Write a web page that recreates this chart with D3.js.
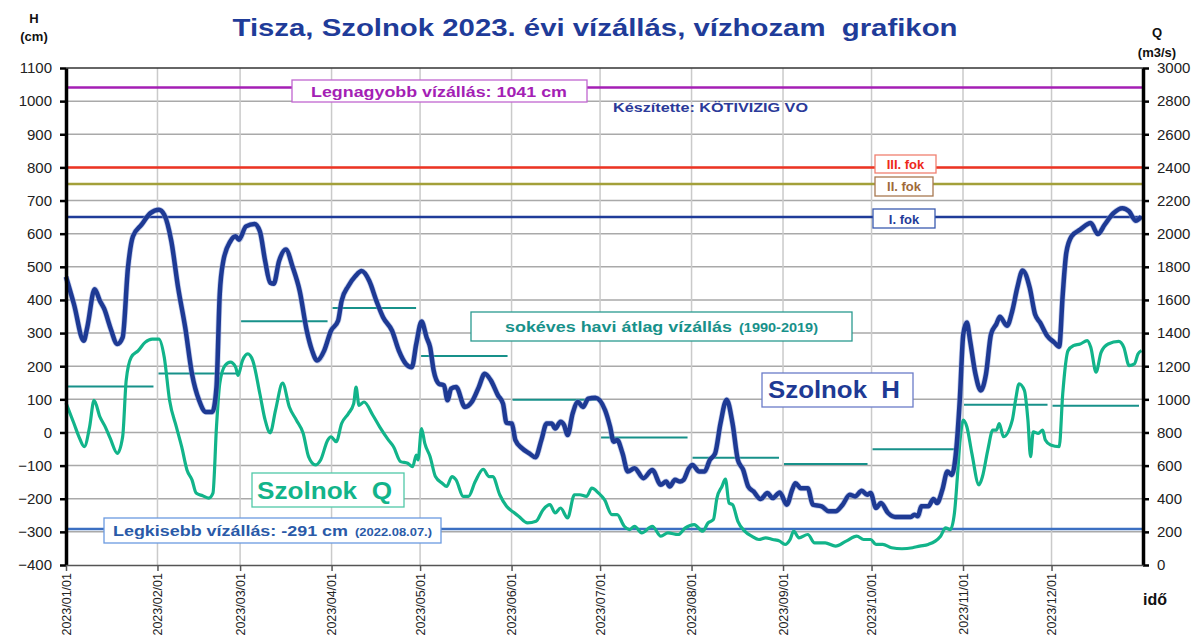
<!DOCTYPE html>
<html lang="hu">
<head>
<meta charset="UTF-8">
<title>Tisza, Szolnok 2023</title>
<script src="https://cdn.jsdelivr.net/npm/d3@7"></script>
<style>
  body { margin: 0; background: #fff; }
  svg { display: block; font-family: "Liberation Sans", Arial, sans-serif; }
  text { white-space: pre; }
</style>
</head>
<body>
<svg id="chart" width="1200" height="636"></svg>
<script>
// day of year (0 = 2023-01-01) and water level H (cm)
const hDay = [0,2.7,6,7.2,9.7,11.5,13,15,17.4,19.2,21,22.7,25.6,28.6,31.5,33.3,35.7,38,40.4,42.7,45.1,47.4,49.6,51,52.1,53.3,55.7,57.5,58.6,61,63.9,65.7,67.5,69.2,70.4,72.2,74.5,76.9,79.2,81.6,83.4,85.1,87.5,89.8,92.2,93.4,95.7,98.1,100.2,102.8,105.2,107.5,110.5,112.8,115.2,117.2,118.7,120.5,122.2,123.4,124.6,126.4,128.1,129.3,130.5,132.2,135.2,137.5,139.9,141.9,144,146.4,148.1,149.3,151.1,152.3,154.6,157,159.1,161.1,162.9,164.6,165.8,167.6,168.8,170,171.7,173.5,175.2,177,179.4,182.7,184.4,185.6,186.8,188.6,190.4,192.7,195.7,198.7,201.6,203.4,204.6,206.4,208.1,209.3,211.1,212.3,214.6,216.4,218.2,220,221.8,223.9,225.9,227.7,229.5,231.2,233,235.4,237.7,239.5,241.9,244.3,246.1,247.2,249,251.4,253.1,256.1,258.5,260.8,263.2,265.6,267.4,269.7,271.5,272.7,274.5,276.2,278.6,281,283.9,286.3,287.5,288.7,289.9,292.2,294,295.2,297,298.7,300.2,301.7,302.9,304.1,305.3,306.4,308.2,310,311.8,313.5,315.3,316.5,318.9,320.7,322.4,324.2,326.6,328.4,330.1,332.5,334.9,336.6,337.8,339,340.8,343.7,347.3,349.7,352,355,358,360.3,362.5,364.5];
const hVal = [470,387,277,317,432,397,372,317,267,287,497,592,627,662,672,657,577,437,317,177,97,62,62,137,417,517,577,592,582,622,629,607,517,452,449,517,552,497,427,307,247,217,247,307,337,397,442,472,487,457,397,347,307,247,207,197,267,335,287,257,187,147,142,97,132,137,77,92,137,177,157,112,87,29,27,-23,-48,-63,-75,-23,27,27,12,32,22,-8,57,92,77,102,105,67,17,-28,-23,-63,-118,-108,-138,-113,-158,-148,-163,-143,-148,-143,-108,-98,-118,-118,-83,-63,27,99,27,-83,-113,-163,-178,-201,-183,-198,-181,-218,-173,-153,-168,-168,-218,-223,-238,-238,-218,-188,-193,-176,-188,-183,-228,-213,-243,-255,-255,-255,-248,-253,-223,-223,-201,-213,-173,-118,-128,-53,97,297,332,277,177,127,177,297,327,349,322,367,437,489,437,357,332,292,272,259,417,542,592,612,632,599,627,662,677,667,639,652];

// day of year and discharge Q (m3/s)
const qDay = [0,2.7,4.4,6.2,8,9.5,11.5,13.3,15,17.4,19.2,20.4,22.1,24.5,26.8,29.2,31.5,33.3,35.1,37.4,39.2,41,42.7,44.1,46.3,48.4,49.8,51,52.1,53.9,55.7,57.5,58.3,59.8,61.6,63.3,65.7,67.5,69.2,71,73.4,75.7,78.1,80.4,82.2,84.5,86.3,88.7,89.8,91.6,93.4,95.7,97.5,98.3,99.3,101,104,106.3,109.3,111,113.4,115.8,117.5,118.7,119.3,120.5,121.6,123.4,125.2,127.5,129,130.8,132.2,134.6,136.4,138.7,141.4,143.4,144.6,147,149.3,151.7,153.4,156.4,159.3,161.7,164,165.8,167.6,170,172.3,174.1,176.4,178.2,180.5,182.5,185,186.8,189.2,191,192.7,195.1,198.7,201.6,204,207.5,209.9,212.9,215.8,217.6,219.4,220.6,222.3,223.5,224.7,225.9,227.7,230,232.4,234.8,237.1,239.5,241.9,243.7,245.4,246.6,248.4,251.4,253.7,257.3,260.8,264.4,268,270.3,272.7,274.5,276.8,279.8,283.3,286.9,289.3,292.2,294.6,296.4,298.1,299.7,301.1,302.1,302.9,304.1,305.3,307,309.4,310.6,312.4,314.1,315.3,316.3,317.7,320.7,321.8,323,324.8,326,326.9,327.8,329.5,331,331.9,333.7,336.6,337.8,339.6,341.4,343.7,346.1,347.3,349.1,350.8,353.2,356.8,358.5,360.3,362.1,363.3,364.5];
const qVal = [978,854,774,714,834,994,894,834,764,674,774,1114,1254,1294,1344,1364,1364,1254,994,834,714,574,514,434,418,404,434,834,1094,1204,1224,1194,1144,1234,1274,1234,1034,874,798,934,1098,954,874,794,654,604,634,754,774,744,854,914,974,1074,964,984,904,834,754,714,624,614,594,664,634,824,734,654,534,494,474,534,514,414,414,504,578,534,534,424,354,318,294,254,264,334,364,314,344,284,424,424,414,464,434,394,304,304,234,214,234,194,234,174,194,184,224,244,204,254,274,404,474,518,374,364,264,204,174,154,164,154,144,124,154,204,164,184,134,134,114,144,174,154,154,124,124,104,98,104,114,124,144,174,224,214,314,534,734,874,834,674,484,534,694,814,814,854,774,874,994,1094,1054,874,654,804,794,814,754,724,714,1034,1294,1324,1334,1354,1314,1164,1284,1334,1350,1314,1204,1214,1274,1294];

// long-term monthly mean water level 1990-2019 (cm)
const monthLabels = ["2023/01/01","2023/02/01","2023/03/01","2023/04/01","2023/05/01","2023/06/01","2023/07/01","2023/08/01","2023/09/01","2023/10/01","2023/11/01","2023/12/01"];
const monthMean = [139, 178, 336, 376, 231, 99, -15, -76, -95, -51, 84, 81];

const hTicks = [-400,-300,-200,-100,0,100,200,300,400,500,600,700,800,900,1000,1100];
const qTicks = [0,200,400,600,800,1000,1200,1400,1600,1800,2000,2200,2400,2600,2800,3000];

const levelH = { max: 1041, fok3: 800, fok2: 750, fok1: 650, min: -291 };

const svg = d3.select('#chart');
const parse = d3.utcParse('%Y/%m/%d');
const start = Date.UTC(2023, 0, 1);
const toDate = d => new Date(start + d * 86400000);

const x = d3.scaleUtc()
    .domain([new Date(start), new Date(Date.UTC(2024, 0, 1))])
    .range([66, 1143]);
const yH = d3.scaleLinear().domain([-400, 1100]).range([565, 68]);
const yQ = d3.scaleLinear().domain([0, 3000]).range([565, 68]);

const monthDates = monthLabels.map(parse);

// grid
svg.append('g').selectAll('line')
    .data(hTicks.slice(1, -1))
    .enter().append('line')
    .attr('x1', 66).attr('x2', 1143)
    .attr('y1', d => yH(d)).attr('y2', d => yH(d))
    .attr('stroke', '#a9a9a9').attr('stroke-width', 1.5);

svg.append('g').selectAll('line')
    .data(monthDates.slice(1))
    .enter().append('line')
    .attr('x1', d => x(d)).attr('x2', d => x(d))
    .attr('y1', 68).attr('y2', 565)
    .attr('stroke', '#cacaca').attr('stroke-width', 1.5);

svg.append('line')
    .attr('x1', 66).attr('x2', 1143).attr('y1', 68).attr('y2', 68)
    .attr('stroke', '#333').attr('stroke-width', 1.5);

// reference levels
const refLines = [
    { v: levelH.max, color: '#a41fb5' },
    { v: levelH.fok3, color: '#ee3322' },
    { v: levelH.fok2, color: '#a3a03a' },
    { v: levelH.fok1, color: '#1f3c99' },
    { v: levelH.min, color: '#3b6fc2' }
];
svg.append('g').selectAll('line')
    .data(refLines)
    .enter().append('line')
    .attr('x1', 66).attr('x2', 1143)
    .attr('y1', d => yH(d.v)).attr('y2', d => yH(d.v))
    .attr('stroke', d => d.color).attr('stroke-width', 2.5);

// monthly means
svg.append('g').selectAll('line')
    .data(monthMean)
    .enter().append('line')
    .attr('x1', (d, i) => x(monthDates[i]) + 1)
    .attr('x2', (d, i) => x(d3.utcMonth.offset(monthDates[i], 1)) - 4)
    .attr('y1', d => yH(d)).attr('y2', d => yH(d))
    .attr('stroke', '#17918a').attr('stroke-width', 2);

// series
const lineQ = d3.line()
    .x((d, i) => x(toDate(qDay[i])))
    .y(d => yQ(d))
    .curve(d3.curveMonotoneX);
svg.append('path')
    .attr('d', lineQ(qVal))
    .attr('fill', 'none')
    .attr('stroke', '#12b48a')
    .attr('stroke-width', 3.2)
    .attr('stroke-linejoin', 'round');

const lineH = d3.line()
    .x((d, i) => x(toDate(hDay[i])))
    .y(d => yH(d))
    .curve(d3.curveMonotoneX);
svg.append('path')
    .attr('d', lineH(hVal))
    .attr('fill', 'none')
    .attr('stroke', '#8ea0d8')
    .attr('stroke-width', 6)
    .attr('stroke-opacity', 0.5)
    .attr('stroke-linejoin', 'round');
svg.append('path')
    .attr('d', lineH(hVal))
    .attr('fill', 'none')
    .attr('stroke', '#1e3a94')
    .attr('stroke-width', 4.5)
    .attr('stroke-linejoin', 'round');

// axes
const axL = svg.append('g')
    .attr('transform', 'translate(66,0)')
    .call(d3.axisLeft(yH).tickValues(hTicks).tickFormat(d3.format('d'))
        .tickSize(6).tickSizeOuter(0).tickPadding(8));
const axR = svg.append('g')
    .attr('transform', 'translate(1143,0)')
    .call(d3.axisRight(yQ).tickValues(qTicks).tickFormat(d3.format('d'))
        .tickSize(6).tickSizeOuter(0).tickPadding(8));
[axL, axR].forEach(a => {
    a.select('.domain').attr('stroke', '#000').attr('stroke-width', 3.5);
    a.selectAll('.tick line').attr('stroke', '#000').attr('stroke-width', 2.5);
    a.selectAll('.tick text').attr('font-size', 15).attr('fill', '#222')
        .attr('font-family', '"Liberation Sans", Arial, sans-serif');
});

const axB = svg.append('g')
    .attr('transform', 'translate(0,565)')
    .call(d3.axisBottom(x).tickValues(monthDates).tickSize(6).tickSizeOuter(0)
        .tickFormat((d, i) => monthLabels[i]));
axB.select('.domain').attr('stroke', '#555').attr('stroke-width', 1.5);
axB.selectAll('.tick line').attr('stroke', '#555').attr('stroke-width', 1.5);
axB.selectAll('.tick text')
    .attr('font-size', 12.5).attr('fill', '#222')
    .attr('font-family', '"Liberation Sans", Arial, sans-serif')
    .attr('transform', 'rotate(-90)')
    .attr('text-anchor', 'end')
    .attr('x', -8).attr('y', 0).attr('dy', '0.35em');

// titles and units
svg.append('text')
    .attr('x', 595).attr('y', 36)
    .attr('text-anchor', 'middle')
    .attr('font-size', 24).attr('font-weight', 'bold').attr('fill', '#1f3c99')
    .attr('textLength', 725).attr('lengthAdjust', 'spacingAndGlyphs')
    .text('Tisza, Szolnok 2023. évi vízállás, vízhozam  grafikon');

const unit = (cx, y1, t1, y2, t2) => {
    svg.append('text').attr('x', cx).attr('y', y1).attr('text-anchor', 'middle')
        .attr('font-size', 13).attr('font-weight', 'bold').attr('fill', '#111').text(t1);
    svg.append('text').attr('x', cx).attr('y', y2).attr('text-anchor', 'middle')
        .attr('font-size', 13).attr('font-weight', 'bold').attr('fill', '#111').text(t2);
};
unit(34, 23, 'H', 41, '(cm)');
unit(1157, 37, 'Q', 57, '(m3/s)');

svg.append('text')
    .attr('x', 1155).attr('y', 605)
    .attr('text-anchor', 'middle')
    .attr('font-size', 16).attr('font-weight', 'bold').attr('fill', '#111')
    .text('idő');

svg.append('text')
    .attr('x', 613).attr('y', 112)
    .attr('font-size', 13).attr('font-weight', 'bold').attr('fill', '#2b3a99')
    .attr('textLength', 195).attr('lengthAdjust', 'spacingAndGlyphs')
    .text('Készítette: KÖTIVIZIG VO');

// label boxes
function box(x0, y0, w, h, stroke) {
    svg.append('rect')
        .attr('x', x0).attr('y', y0).attr('width', w).attr('height', h)
        .attr('fill', '#fff').attr('stroke', stroke).attr('stroke-width', 1.3);
}

box(292, 80, 295, 22, '#c066d0');
svg.append('text').attr('x', 311).attr('y', 97)
    .attr('font-size', 15).attr('font-weight', 'bold').attr('fill', '#a41fb5')
    .attr('textLength', 256).attr('lengthAdjust', 'spacingAndGlyphs')
    .text('Legnagyobb vízállás: 1041 cm');

box(875, 155, 61, 18, '#f08070');
svg.append('text').attr('x', 905.5).attr('y', 169).attr('text-anchor', 'middle')
    .attr('font-size', 13).attr('font-weight', 'bold').attr('fill', '#ee2a1a')
    .text('III. fok');

box(875, 177, 58, 19, '#a87850');
svg.append('text').attr('x', 904).attr('y', 191).attr('text-anchor', 'middle')
    .attr('font-size', 13).attr('font-weight', 'bold').attr('fill', '#a06a3a')
    .text('II. fok');

box(873, 209, 62, 19, '#3b5bb0');
svg.append('text').attr('x', 904).attr('y', 224).attr('text-anchor', 'middle')
    .attr('font-size', 13).attr('font-weight', 'bold').attr('fill', '#1f3c99')
    .text('I. fok');

box(471, 312, 381, 29, '#2a9a90');
const tAvg = svg.append('text').attr('x', 505).attr('y', 332)
    .attr('font-size', 15).attr('font-weight', 'bold').attr('fill', '#17918a');
tAvg.append('tspan').attr('textLength', 227).attr('lengthAdjust', 'spacingAndGlyphs')
    .text('sokéves havi átlag vízállás');
tAvg.append('tspan').attr('x', 739).attr('font-size', 12.5)
    .attr('textLength', 79).attr('lengthAdjust', 'spacingAndGlyphs')
    .text('(1990-2019)');

box(762, 373, 151, 34, '#6a7cc8');
svg.append('text').attr('x', 768).attr('y', 398)
    .attr('font-size', 24).attr('font-weight', 'bold').attr('fill', '#1e3a94')
    .attr('textLength', 132).attr('lengthAdjust', 'spacingAndGlyphs')
    .text('Szolnok  H');

box(252, 473, 152, 34, '#50c8a8');
svg.append('text').attr('x', 257).attr('y', 499)
    .attr('font-size', 24).attr('font-weight', 'bold').attr('fill', '#12b48a')
    .attr('textLength', 135).attr('lengthAdjust', 'spacingAndGlyphs')
    .text('Szolnok  Q');

box(104, 518, 337, 25, '#6b9ae0');
const tMin = svg.append('text').attr('x', 113).attr('y', 536)
    .attr('font-size', 15).attr('font-weight', 'bold').attr('fill', '#2a5aa8');
tMin.append('tspan').attr('textLength', 235).attr('lengthAdjust', 'spacingAndGlyphs')
    .text('Legkisebb vízállás: -291 cm');
tMin.append('tspan').attr('x', 355).attr('font-size', 11)
    .attr('textLength', 77).attr('lengthAdjust', 'spacingAndGlyphs')
    .text('(2022.08.07.)');
</script>
</body>
</html>
